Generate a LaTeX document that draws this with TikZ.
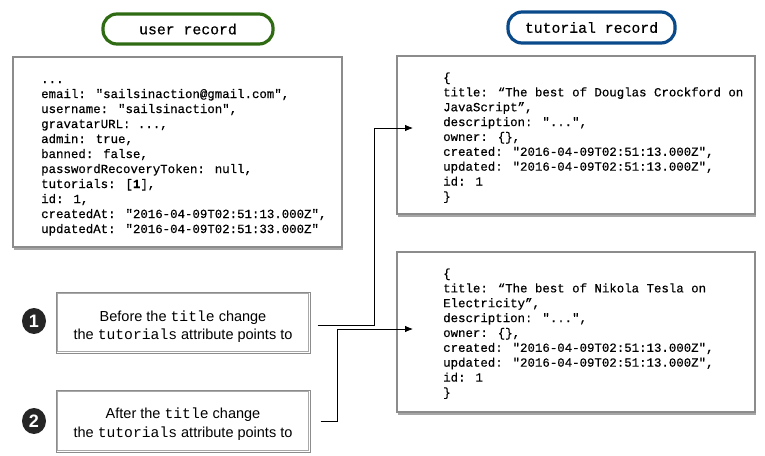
\documentclass[tikz,border=0pt]{standalone}
\usepackage{fontspec}
\setmainfont{Liberation Sans}
\newfontfamily\mono{Liberation Mono}[FakeBold=0.4]
\newfontfamily\monoplain{Liberation Mono}
\usetikzlibrary{arrows.meta,shadows,calc,shapes.geometric}
\definecolor{pillgreen}{HTML}{2F6B12}
\definecolor{pillblue}{HTML}{0B4A8A}
\definecolor{boxgray}{HTML}{8C8C8C}
\definecolor{innergray}{HTML}{A8A8A8}
\definecolor{dot}{HTML}{262626}
\tikzset{
  pill/.style={draw=#1, line width=3.2pt, fill=white, rounded corners=14pt, inner sep=0pt,
    font=\mono\fontsize{14.8}{16}\selectfont},
  codebox/.style={draw=boxgray, line width=1.1pt, fill=white, inner sep=0pt,
    drop shadow={shadow xshift=1pt, shadow yshift=-2.5pt, opacity=0.35, fill=black}},
  codeline/.style={anchor=base west, inner sep=0pt, font=\mono\fontsize{12.4}{14}\selectfont},
  notebox/.style={draw=boxgray, line width=1pt, fill=white, inner sep=0pt},
  noteinner/.style={draw=innergray, line width=0.8pt},
  noteline/.style={anchor=base, inner sep=0pt, font=\fontsize{14.5}{16}\selectfont},
  numdot/.style={ellipse, fill=dot, text=white, inner sep=0pt, minimum width=24pt, minimum height=26pt,
    font=\bfseries\fontsize{18}{18}\selectfont},
  conn/.style={draw=black, line width=0.8pt, -{Latex[length=8pt,width=6.5pt]}},
}
\newcommand{\mt}[1]{{\monoplain\fontsize{14.7}{16}\selectfont #1}}
\newcommand{\ddd}{.{}.{}.}
\begin{document}
\begin{tikzpicture}[x=1pt,y=-1pt]
\useasboundingbox (0,0) rectangle (765,455);

% pills
\node[pill=pillgreen, minimum width=170pt, minimum height=30pt] (upill) at (188,29) {user record};
\node[pill=pillblue, minimum width=167pt, minimum height=31pt] (tpill) at (591.5,27.5) {tutorial record};

% code boxes
\node[codebox, minimum width=329pt, minimum height=190pt] (ubox) at (177.5,152) {};
\node[codebox, minimum width=358pt, minimum height=158pt] (tbox1) at (576,135) {};
\node[codebox, minimum width=358pt, minimum height=160pt] (tbox2) at (576,332) {};

\foreach \t [count=\i from 0] in {
  {\ddd},
  {email: "sailsinaction@gmail.com",},
  {username: "sailsinaction",},
  {gravatarURL: \ddd,},
  {admin: true,},
  {banned: false,},
  {passwordRecoveryToken: null,},
  {tutorials: [\textbf{1}],},
  {id: 1,},
  {createdAt: "2016-04-09T02:51:13.000Z",},
  {updatedAt: "2016-04-09T02:51:33.000Z"}}
  \node[codeline] (u\i) at (41,83+15*\i) {\t};

\foreach \t [count=\i from 0] in {
  {\{},
  {title: “The best of Douglas Crockford on},
  {JavaScript”,},
  {description: "\ddd",},
  {owner: \{\},},
  {created: "2016-04-09T02:51:13.000Z",},
  {updated: "2016-04-09T02:51:13.000Z",},
  {id: 1},
  {\}}}
  \node[codeline] (a\i) at (443,81.5+14.86*\i) {\t};

\foreach \t [count=\i from 0] in {
  {\{},
  {title: “The best of Nikola Tesla on},
  {Electricity”,},
  {description: "\ddd",},
  {owner: \{\},},
  {created: "2016-04-09T02:51:13.000Z",},
  {updated: "2016-04-09T02:51:13.000Z",},
  {id: 1},
  {\}}}
  \node[codeline] (b\i) at (443,277.5+14.86*\i) {\t};

% note boxes
\node[notebox, minimum width=254pt, minimum height=61pt] (before) at (183,322.5) {};
\node[notebox, minimum width=254pt, minimum height=62pt] (after) at (183,421) {};
\draw[noteinner] ([xshift=2.2pt,yshift=-2.2pt]before.north west) rectangle ([xshift=-2.2pt,yshift=2.2pt]before.south east);
\draw[noteinner] ([xshift=2.2pt,yshift=-2.2pt]after.north west) rectangle ([xshift=-2.2pt,yshift=2.2pt]after.south east);
\node[noteline] (bt1) at (183,321) {Before the \mt{title} change};
\node[noteline] (bt2) at (183,339) {the \mt{tutorials} attribute points to};
\node[noteline] (at1) at (183,418) {After the \mt{title} change};
\node[noteline] (at2) at (183,437) {the \mt{tutorials} attribute points to};

\node[numdot] (n1) at (34,321) {1};
\node[numdot] (n2) at (34,421) {2};

% connectors
\coordinate (t1) at (413,128);
\coordinate (t2) at (413,329);
\draw[conn] ([xshift=7pt,yshift=-2.5pt]before.east) -- ++(57,0) |- (t1);
\draw[conn] ([xshift=10pt]after.east) -- ++(17,0) |- (t2);
\end{tikzpicture}
\end{document}
